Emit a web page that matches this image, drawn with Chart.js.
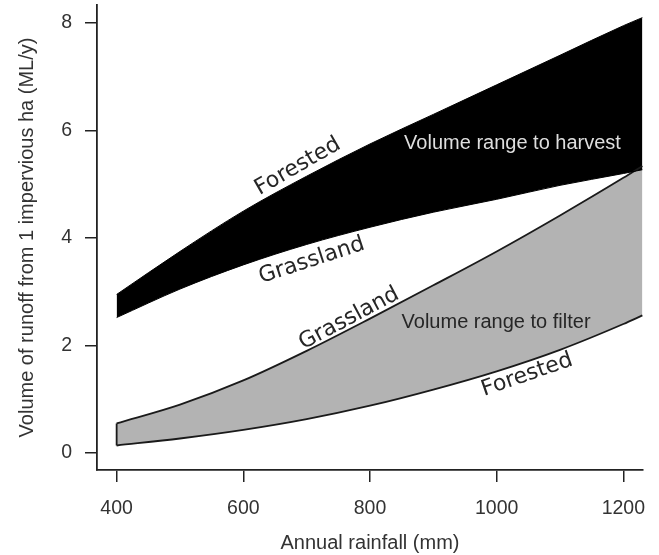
<!DOCTYPE html>
<html>
<head>
<meta charset="utf-8">
<script src="https://cdn.jsdelivr.net/npm/chart.js@4.4.1/dist/chart.umd.min.js"></script>
<style>
  html, body { margin: 0; padding: 0; background: #fff; }
  #wrap { width: 659px; height: 555px; }
</style>
</head>
<body>
<div id="wrap"><canvas id="runoff" width="659" height="555"></canvas></div>
<script>
// ==============================
//  data
// ==============================
const rainfall         = [400, 500, 600, 700, 800, 900, 1000, 1100, 1200, 1230];
const forestedHarvest  = [2.95, 3.75, 4.5, 5.15, 5.75, 6.3, 6.85, 7.4, 7.95, 8.1];
const grasslandHarvest = [2.52, 3.05, 3.5, 3.88, 4.2, 4.48, 4.72, 4.98, 5.2, 5.27];
const grasslandFilter  = [0.55, 0.9, 1.35, 1.9, 2.5, 3.12, 3.75, 4.42, 5.12, 5.34];
const forestedFilter   = [0.14, 0.27, 0.43, 0.63, 0.88, 1.18, 1.52, 1.92, 2.4, 2.56];

const xTicks = [400, 600, 800, 1000, 1200];
const yTicks = [0, 2, 4, 6, 8];

const xTitle = "Annual rainfall (mm)";
const yTitle = "Volume of runoff from 1 impervious ha (ML/y)";

const pts = ys => rainfall.map((x, i) => ({ x, y: ys[i] }));

// labels placed in data units: [text, x, y, angle, kind]
const curveLabels = [
  ["Forested", 686, 5.33, -30, "curve"],
  ["Grassland", 708, 3.58, -18, "curve"],
  ["Grassland", 767, 2.50, -28, "curve"],
  ["Forested", 1048, 1.45, -19, "curve"],
  ["Volume range to harvest", 1025, 5.75, 0, "light"],
  ["Volume range to filter", 999, 2.42, 0, "dark"]
];

// --- 곡선 위 라벨 ---
const labelPlugin = {
  id: "labels",
  afterDatasetsDraw(chart) {
    const { ctx, scales: { x, y } } = chart;
    ctx.save();
    ctx.textAlign = "center";
    ctx.textBaseline = "middle";
    curveLabels.forEach(([text, dx, dy, ang, kind]) => {
      ctx.save();
      ctx.translate(x.getPixelForValue(dx), y.getPixelForValue(dy));
      ctx.rotate(ang * Math.PI / 180);
      if (kind === "curve") {
        ctx.font = "22px 'DejaVu Sans'";
        ctx.fillStyle = "#262626";
      } else {
        ctx.font = "20px 'Liberation Sans', Arial, sans-serif";
        ctx.fillStyle = kind === "light" ? "#dedede" : "#262626";
      }
      ctx.fillText(text, 0, 0);
      ctx.restore();
    });
    ctx.restore();
  }
};

const axisColor = "#222";
const textColor = "#333";
const tickFont = { family: "'Liberation Sans', Arial, sans-serif", size: 19.5 };
const titleFont = { family: "'Liberation Sans', Arial, sans-serif", size: 20 };

new Chart(document.getElementById("runoff"), {
  type: "line",
  data: {
    datasets: [
      { data: pts(forestedHarvest), fill: "+1", backgroundColor: "#000", borderColor: "#000", borderWidth: 1 },
      { data: pts(grasslandHarvest), fill: false, borderColor: "#000", borderWidth: 1 },
      { data: pts(grasslandFilter), fill: "+1", backgroundColor: "#b3b3b3", borderColor: "#1a1a1a", borderWidth: 1.8 },
      { data: pts(forestedFilter), fill: false, borderColor: "#1a1a1a", borderWidth: 1.8 },
      {
        data: [{ x: rainfall[0], y: forestedFilter[0] }, { x: rainfall[0], y: grasslandFilter[0] }],
        fill: false, borderColor: "#1a1a1a", borderWidth: 1.8
      }
    ]
  },
  options: {
    responsive: false,
    animation: false,
    devicePixelRatio: 1,
    elements: {
      point: { radius: 0, hoverRadius: 0 },
      line: { cubicInterpolationMode: "monotone" }
    },
    layout: { padding: { left: 0, right: 16, top: 5, bottom: 0 } },
    plugins: {
      legend: { display: false },
      tooltip: { enabled: false },
      filler: { drawTime: "beforeDatasetsDraw" }
    },
    scales: {
      x: {
        type: "linear",
        min: 369,
        max: 1231,
        afterBuildTicks: s => { s.ticks = xTicks.map(v => ({ value: v })); },
        afterFit: s => { s.height = 85; s.paddingLeft = 0; s.paddingRight = 0; },
        ticks: { font: tickFont, color: textColor, padding: 15, maxRotation: 0, callback: v => String(v) },
        grid: { drawOnChartArea: false, drawTicks: true, tickLength: 12, color: axisColor, lineWidth: 1.5 },
        border: { display: true, color: axisColor, width: 1.8 },
        title: { display: true, text: xTitle, font: titleFont, color: textColor, padding: { top: 0, bottom: 0 } }
      },
      y: {
        type: "linear",
        min: -0.316,
        max: 8.335,
        afterBuildTicks: s => { s.ticks = yTicks.map(v => ({ value: v })); },
        afterFit: s => { s.width = 97; s.paddingTop = 0; s.paddingBottom = 0; },
        ticks: { font: tickFont, color: textColor, padding: 13, callback: v => String(v) },
        grid: { drawOnChartArea: false, drawTicks: true, tickLength: 12, color: axisColor, lineWidth: 1.5 },
        border: { display: true, color: axisColor, width: 1.8 },
        title: { display: true, text: yTitle, font: titleFont, color: textColor, padding: { top: 15, bottom: 0 } }
      }
    }
  },
  plugins: [labelPlugin]
});
</script>
</body>
</html>
